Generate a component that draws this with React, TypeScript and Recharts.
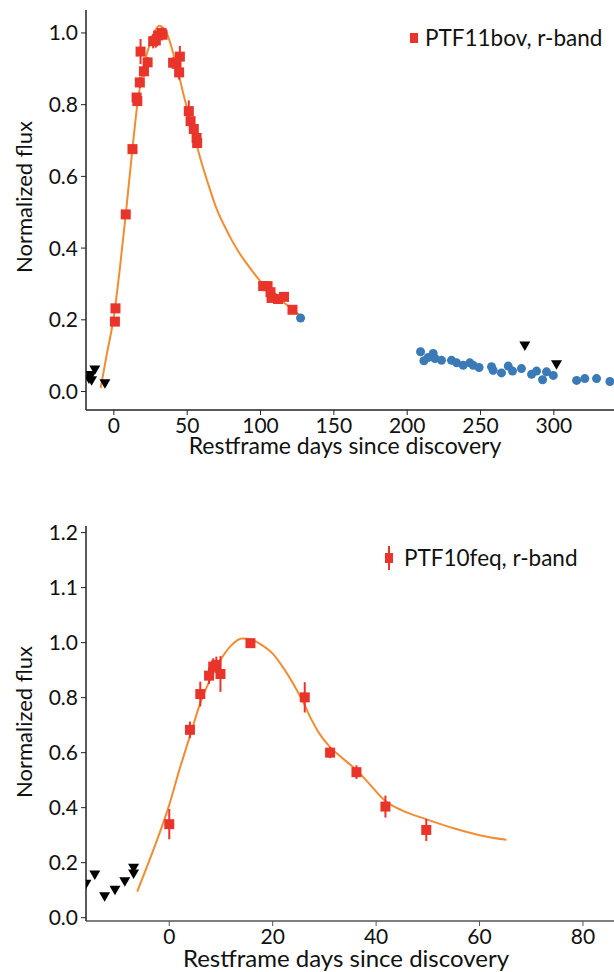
import React from 'react';
import { ComposedChart, Scatter, Line, XAxis, YAxis, ErrorBar, Legend, Label } from 'recharts';

const FONT = 'Lato, "Noto Sans", sans-serif';
const RED = '#e8342a';
const ORANGE = '#f28c33';
const BLUE = '#3a7ab6';
const AXIS = '#222';

// ---------- PTF11bov (top panel) ----------
const bovRedDays = [0.7, 1.1, 8.1, 12.7, 15.5, 16.0, 17.7, 18.2, 20.5, 23.0, 26.8, 28.6, 30.2, 32.5, 33.2, 40.4, 42.7, 44.5, 45.0, 51.1, 52.3, 54.5, 56.4, 56.8, 101.8, 104.8, 106.8, 107.5, 112.0, 116.0, 121.8];
const bovRedFlux = [0.195, 0.232, 0.494, 0.676, 0.82, 0.81, 0.862, 0.948, 0.893, 0.918, 0.977, 0.979, 0.993, 1.0, 0.995, 0.917, 0.914, 0.89, 0.934, 0.782, 0.754, 0.732, 0.707, 0.693, 0.294, 0.294, 0.277, 0.261, 0.258, 0.264, 0.228];
const bovRedErr = [0.01, 0.01, 0.01, 0.01, 0.01, 0.01, 0.015, 0.035, 0.015, 0.015, 0.02, 0.02, 0.015, 0.015, 0.01, 0.015, 0.02, 0.02, 0.03, 0.03, 0.01, 0.01, 0.01, 0.01, 0.01, 0.01, 0.01, 0.01, 0.01, 0.01, 0.01];

const bovBlueDays = [127.3, 209.1, 211.4, 214.3, 217.7, 218.9, 223.4, 230.2, 233.7, 238.2, 242.7, 245.0, 249.0, 257.5, 258.6, 264.3, 268.9, 271.8, 277.9, 284.8, 288.2, 292.3, 295.0, 299.6, 315.5, 321.1, 329.1, 338.2];
const bovBlueFlux = [0.205, 0.111, 0.086, 0.095, 0.106, 0.092, 0.087, 0.087, 0.08, 0.073, 0.08, 0.073, 0.067, 0.069, 0.059, 0.052, 0.071, 0.057, 0.064, 0.048, 0.057, 0.033, 0.055, 0.045, 0.031, 0.036, 0.036, 0.028];

const bovLimitDays = [-17.0, -16.0, -15.2, -13.0, -6.1, 280.2, 301.8];
const bovLimitFlux = [0.035, 0.045, 0.03, 0.06, 0.022, 0.127, 0.075];

const bovFitDays = [-9, -5, 0, 4, 8, 12, 16, 20, 25, 31, 36, 42, 48, 55, 60, 65, 70, 75, 80, 85, 90, 95, 100, 105, 110, 115, 120, 127];
const bovFitFlux = [0.01, 0.1, 0.21, 0.34, 0.49, 0.65, 0.8, 0.9, 0.975, 1.02, 1.0, 0.92, 0.82, 0.71, 0.635, 0.57, 0.51, 0.465, 0.425, 0.39, 0.36, 0.333, 0.307, 0.286, 0.268, 0.251, 0.235, 0.212];

const bovXTicks = [0, 50, 100, 150, 200, 250, 300];
const bovYTicks = [0, 0.2, 0.4, 0.6, 0.8, 1.0];
const bovYTickLabels = ['0.0', '0.2', '0.4', '0.6', '0.8', '1.0'];

// ---------- PTF10feq (bottom panel) ----------
const feqRedDays = [0.0, 4.0, 6.0, 7.7, 8.5, 9.1, 9.9, 15.7, 26.2, 31.1, 36.2, 41.8, 49.7];
const feqRedFlux = [0.34, 0.683, 0.813, 0.88, 0.913, 0.919, 0.886, 0.998, 0.801, 0.6, 0.529, 0.404, 0.319];
const feqRedErr = [0.055, 0.03, 0.045, 0.03, 0.03, 0.03, 0.065, 0.015, 0.055, 0.02, 0.025, 0.04, 0.04];

const feqLimitDays = [-16.1, -14.4, -12.5, -10.5, -8.6, -6.9, -6.9];
const feqLimitFlux = [0.122, 0.155, 0.076, 0.1, 0.131, 0.159, 0.18];

const feqFitDays = [-6.2, -3, 0, 2, 4, 6, 8, 10, 12, 14, 16, 18, 20, 22, 24, 26, 27.5, 29, 31.1, 33.5, 36.2, 39, 41.8, 45, 49.7, 55, 60, 65.2];
const feqFitFlux = [0.095, 0.25, 0.41, 0.54, 0.66, 0.78, 0.87, 0.94, 0.99, 1.015, 1.01, 0.99, 0.96, 0.91, 0.85, 0.78, 0.72, 0.67, 0.62, 0.58, 0.537, 0.48, 0.424, 0.39, 0.358, 0.325, 0.3, 0.283];

const feqXTicks = [0, 20, 40, 60, 80];
const feqYTicks = [0, 0.2, 0.4, 0.6, 0.8, 1.0, 1.2, 1.4];
const feqYTickLabels = ['0.0', '0.2', '0.4', '0.6', '0.8', '1.0', '1.1', '1.2'];

const zip = (xs: number[], ys: number[], es?: number[]) =>
  xs.map((x, i) => ({ x, y: ys[i], err: es ? es[i] : 0 }));

const bovRed = zip(bovRedDays, bovRedFlux, bovRedErr);
const bovBlue = zip(bovBlueDays, bovBlueFlux);
const bovLimits = zip(bovLimitDays, bovLimitFlux);
const bovFit = zip(bovFitDays, bovFitFlux);
const feqRed = zip(feqRedDays, feqRedFlux, feqRedErr);
const feqLimits = zip(feqLimitDays, feqLimitFlux);
const feqFit = zip(feqFitDays, feqFitFlux);

const Square = (p: any) =>
  p.cx == null ? null : <rect x={p.cx - 5} y={p.cy - 5} width={10} height={10} fill={RED} />;
const Dot = (p: any) =>
  p.cx == null ? null : <circle cx={p.cx} cy={p.cy} r={4.5} fill={BLUE} />;
const Tri = (p: any) =>
  p.cx == null ? null : (
    <path d={`M${p.cx - 5.5},${p.cy - 4.5} L${p.cx + 5.5},${p.cy - 4.5} L${p.cx},${p.cy + 5} Z`} fill="#000" />
  );

const tickStyle = { fontSize: 21, fill: '#111', fontFamily: FONT };

const YLabel = (cx: number, cy: number, size: number) => () => (
  <text x={cx} y={cy} transform={`rotate(-90 ${cx} ${cy})`} textAnchor="middle"
    style={{ fontSize: size, fontFamily: FONT, fill: '#111' }}>
    Normalized flux
  </text>
);
const XLabel = (cx: number, y: number, size: number) => () => (
  <text x={cx} y={y} textAnchor="middle" style={{ fontSize: size, fontFamily: FONT, fill: '#111' }}>
    Restframe days since discovery
  </text>
);

const LegendBox = (name: string, withBar: boolean) => () => (
  <div style={{ display: 'flex', alignItems: 'center', fontFamily: FONT, fontSize: 22.5, color: '#111', whiteSpace: 'nowrap', lineHeight: '28px' }}>
    <svg width={14} height={26} style={{ marginRight: withBar ? 8 : 4 }}>
      {withBar && <line x1={7} x2={7} y1={1} y2={25} stroke={RED} strokeWidth={2} />}
      <rect x={3} y={8} width={8} height={10} fill={RED} />
    </svg>
    <span>{name}</span>
  </div>
);

export default function App() {
  return (
    <div style={{ position: 'absolute', left: 0, top: 0, width: 614, height: 972, background: '#fff' }}>
      <div style={{ position: 'absolute', left: 0, top: 0 }}>
        <ComposedChart width={614} height={470} margin={{ top: 10, right: 0, bottom: 0, left: 0 }}>
          <XAxis xAxisId="top" orientation="top" type="number" dataKey="x" domain={[-19, 341]} allowDataOverflow
            tick={false} tickLine={false} height={0} axisLine={{ stroke: '#333', strokeWidth: 1.5 }} />
          <XAxis dataKey="x" type="number" domain={[-19, 341]} allowDataOverflow ticks={bovXTicks}
            tick={tickStyle} tickSize={5} tickMargin={3} height={60}
            axisLine={{ stroke: AXIS, strokeWidth: 1.5 }} tickLine={{ stroke: AXIS }}>
            <Label content={XLabel(345, 454, 23)} />
          </XAxis>
          <YAxis type="number" dataKey="y" domain={[-0.0515, 1.064]} allowDataOverflow ticks={bovYTicks}
            tickFormatter={(v: number) => bovYTickLabels[bovYTicks.indexOf(v)] ?? String(v)}
            tick={tickStyle} tickSize={5} tickMargin={3} width={86}
            axisLine={{ stroke: AXIS, strokeWidth: 1.5 }} tickLine={{ stroke: AXIS }}>
            <Label content={YLabel(32, 197, 22)} />
          </YAxis>
          <Legend layout="vertical" align="center" verticalAlign="middle" content={LegendBox('PTF11bov, r-band', false)}
            wrapperStyle={{ position: 'absolute', left: 407, top: 24, width: 'auto', height: 'auto' }} />
          <Line data={bovFit} dataKey="y" type="monotone" stroke={ORANGE} strokeWidth={2} dot={false}
            isAnimationActive={false} legendType="none" />
          <Scatter data={bovLimits} dataKey="y" shape={Tri} isAnimationActive={false} legendType="none" />
          <Scatter data={bovBlue} dataKey="y" shape={Dot} isAnimationActive={false} legendType="none" />
          <Scatter data={bovRed} dataKey="y" shape={Square} isAnimationActive={false} name="PTF11bov, r-band">
            <ErrorBar dataKey="err" direction="y" width={0} stroke={RED} strokeWidth={2} />
          </Scatter>
        </ComposedChart>
      </div>
      <div style={{ position: 'absolute', left: 0, top: 500 }}>
        <ComposedChart width={614} height={472} margin={{ top: 26, right: 0, bottom: 0, left: 0 }}>
          <XAxis xAxisId="top" orientation="top" type="number" dataKey="x" domain={[-16.1, 86]} allowDataOverflow
            tick={false} tickLine={false} height={0} axisLine={{ stroke: '#333', strokeWidth: 1.5 }} />
          <XAxis dataKey="x" type="number" domain={[-16.1, 86]} allowDataOverflow ticks={feqXTicks}
            tick={tickStyle} tickSize={5} tickMargin={3} height={51}
            axisLine={{ stroke: '#555', strokeWidth: 1.5 }} tickLine={{ stroke: '#555' }}>
            <Label content={XLabel(346, 467, 24)} />
          </XAxis>
          <YAxis type="number" dataKey="y" domain={[-0.012, 1.424]} allowDataOverflow ticks={feqYTicks}
            tickFormatter={(v: number) => feqYTickLabels[feqYTicks.indexOf(v)] ?? String(v)}
            tick={tickStyle} tickSize={5} tickMargin={3} width={86}
            axisLine={{ stroke: AXIS, strokeWidth: 1.5 }} tickLine={{ stroke: AXIS }}>
            <Label content={YLabel(32, 222, 22)} />
          </YAxis>
          <Legend layout="vertical" align="center" verticalAlign="middle" content={LegendBox('PTF10feq, r-band', true)}
            wrapperStyle={{ position: 'absolute', left: 382, top: 44, width: 'auto', height: 'auto' }} />
          <Line data={feqFit} dataKey="y" type="monotone" stroke={ORANGE} strokeWidth={2} dot={false}
            isAnimationActive={false} legendType="none" />
          <Scatter data={feqLimits} dataKey="y" shape={Tri} isAnimationActive={false} legendType="none" />
          <Scatter data={feqRed} dataKey="y" shape={Square} isAnimationActive={false} name="PTF10feq, r-band">
            <ErrorBar dataKey="err" direction="y" width={0} stroke={RED} strokeWidth={2} />
          </Scatter>
        </ComposedChart>
      </div>
    </div>
  );
}
